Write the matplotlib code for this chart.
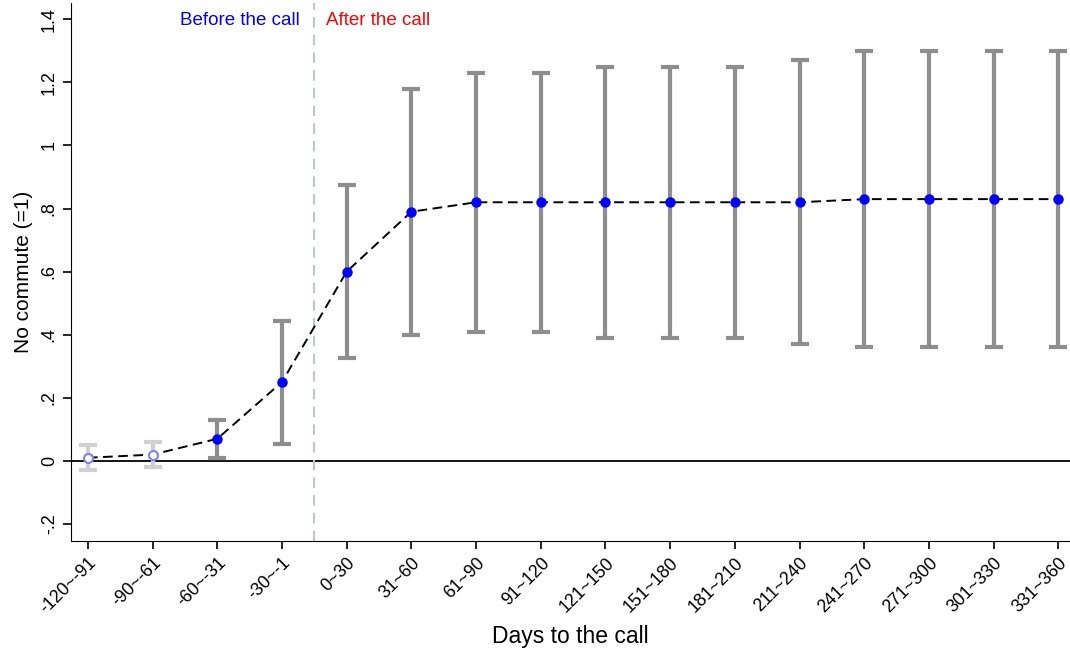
import numpy as np
import matplotlib.pyplot as plt
import matplotlib.transforms as mtransforms

plt.rcParams['font.family'] = ['Liberation Sans', 'DejaVu Sans']

labels = ['-120~-91', '-90~-61', '-60~-31', '-30~-1', '0~30', '31~60', '61~90',
          '91~120', '121~150', '151~180', '181~210', '211~240', '241~270',
          '271~300', '301~330', '331~360']
coef = [0.01, 0.02, 0.07, 0.25, 0.60, 0.79, 0.82, 0.82, 0.82, 0.82, 0.82, 0.82,
        0.83, 0.83, 0.83, 0.83]
ci_low = [-0.03, -0.02, 0.01, 0.055, 0.325, 0.40, 0.41, 0.41, 0.39, 0.39, 0.39,
          0.37, 0.36, 0.36, 0.36, 0.36]
ci_high = [0.05, 0.06, 0.13, 0.445, 0.875, 1.18, 1.23, 1.23, 1.25, 1.25, 1.25,
           1.27, 1.30, 1.30, 1.30, 1.30]
significant = [False, False, True, True, True, True, True, True, True, True,
               True, True, True, True, True, True]

x = np.arange(len(labels))
coef = np.array(coef)
lo = np.array(ci_low)
hi = np.array(ci_high)
sig = np.array(significant)

fig = plt.figure(figsize=(10.70, 6.53), dpi=100)
ax = fig.add_axes([0.0664, 0.1715, 0.9336, 0.824])

ax.axhline(0, color='black', lw=1.3, zorder=1)
ax.axvline(3.5, color='#b9c9c6', lw=1.5, ls=(0, (5, 3.5)), zorder=1)

for mask, col in [(~sig, '#d0d0d0'), (sig, '#8e8e8e')]:
    ax.errorbar(x[mask], coef[mask], yerr=[coef[mask] - lo[mask], hi[mask] - coef[mask]],
                fmt='none', ecolor=col, elinewidth=3, capsize=6.5, capthick=3, zorder=2)

ax.plot(x, coef, color='black', lw=1.4, ls=(0, (5, 2.8)), zorder=3)
ax.plot(x[sig], coef[sig], 'o', color='#0000ff', ms=6.5, zorder=4)
ax.plot(x[~sig], coef[~sig], 'o', mfc='white', mec='#8080ff', mew=1.5, ms=6.5, zorder=4)

ax.text(3.28, 1.397, 'Before the call', color='#0000ff', fontsize=13.5, ha='right', va='center')
ax.text(3.68, 1.397, 'After the call', color='#ff0000', fontsize=13.5, ha='left', va='center')

ax.set_xlim(-0.26, 15.18)
ax.set_ylim(-0.254, 1.452)
ax.set_xticks(x)
ax.set_xticklabels(labels, rotation=45, ha='right', rotation_mode='anchor', fontsize=12.8)
shift = mtransforms.ScaledTranslation(-0.10, -0.01, fig.dpi_scale_trans)
for lab in ax.get_xticklabels():
    lab.set_transform(lab.get_transform() + shift)
yt = [-0.2, 0, 0.2, 0.4, 0.6, 0.8, 1, 1.2, 1.4]
ax.set_yticks(yt)
ax.set_yticklabels(['-.2', '0', '.2', '.4', '.6', '.8', '1', '1.2', '1.4'],
                   rotation=90, va='center', fontsize=13)
ax.tick_params(direction='out', length=6, width=1.2)
ax.spines['top'].set_visible(False)
ax.spines['right'].set_visible(False)
ax.set_xlabel('Days to the call', fontsize=16.5, labelpad=6)
ax.set_ylabel('No commute (=1)', fontsize=15, labelpad=6)

fig.savefig('out.png', dpi=100)
